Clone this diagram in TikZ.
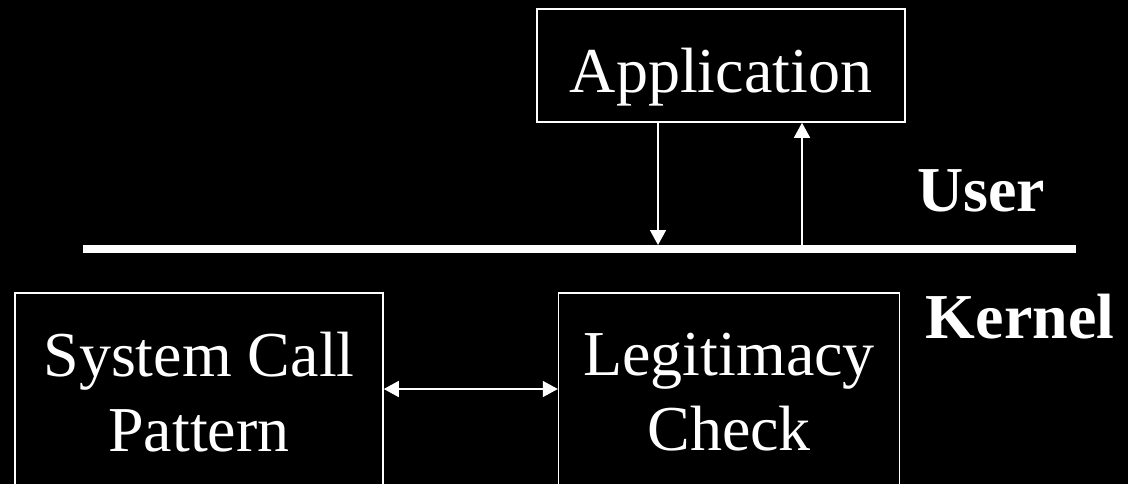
\documentclass[tikz,border=0pt]{standalone}
\usepackage{fontspec}
\setmainfont{Liberation Serif}
\usepackage{tikz}
\usetikzlibrary{arrows.meta,positioning,calc}

\begin{document}
\begin{tikzpicture}[
    x=0.5pt, y=0.5pt,
    block/.style={rectangle, draw=white, line width=0.8pt, text=white, align=center, font=\fontsize{32}{37.5}\selectfont, inner sep=0pt},
    side/.style={text=white, font=\fontsize{32}{37.5}\selectfont\bfseries, inner sep=0pt},
    arrow/.style={draw=white, line width=0.8pt, -{Triangle[length=7.5pt,width=8pt]}},
    divider/.style={draw=white, line width=4pt}
]

% Frame
\path[use as bounding box, clip] (0,0) rectangle (1128,484);
\fill[black] (0,0) rectangle (1128,484);

% User space
\node[block, minimum width=184pt, minimum height=56.5pt, text height=27pt, text depth=0.5pt] (app) at (721,418.5) {Application};

% Kernel space
\node[block, minimum width=184pt, minimum height=99.5pt] (scp) at (199,91.5) {System Call\\Pattern};
\node[block, minimum width=170.5pt, minimum height=99.5pt, right=87pt of scp] (legit) {Legitimacy\\Check};

% Boundary
\coordinate (divL) at (83,235);
\coordinate (divR) at (1076,235);
\coordinate (callin) at (658,239);
\coordinate (callout) at (802,239);
\coordinate (midrow) at (0,95);
\draw[divider] (divL) -- (divR);

\node[side, anchor=base] (user) at (981,273) {User};
\node[side, anchor=base] (kernel) at (1020,146) {Kernel};

% Arrows
\draw[arrow] (app.south -| callin) -- (callin);
\draw[arrow] (callout) -- (app.south -| callout);
\draw[arrow, {Triangle[length=7.5pt,width=8pt]}-{Triangle[length=7.5pt,width=8pt]}] (scp.east |- midrow) -- (legit.west |- midrow);

\end{tikzpicture}
\end{document}
